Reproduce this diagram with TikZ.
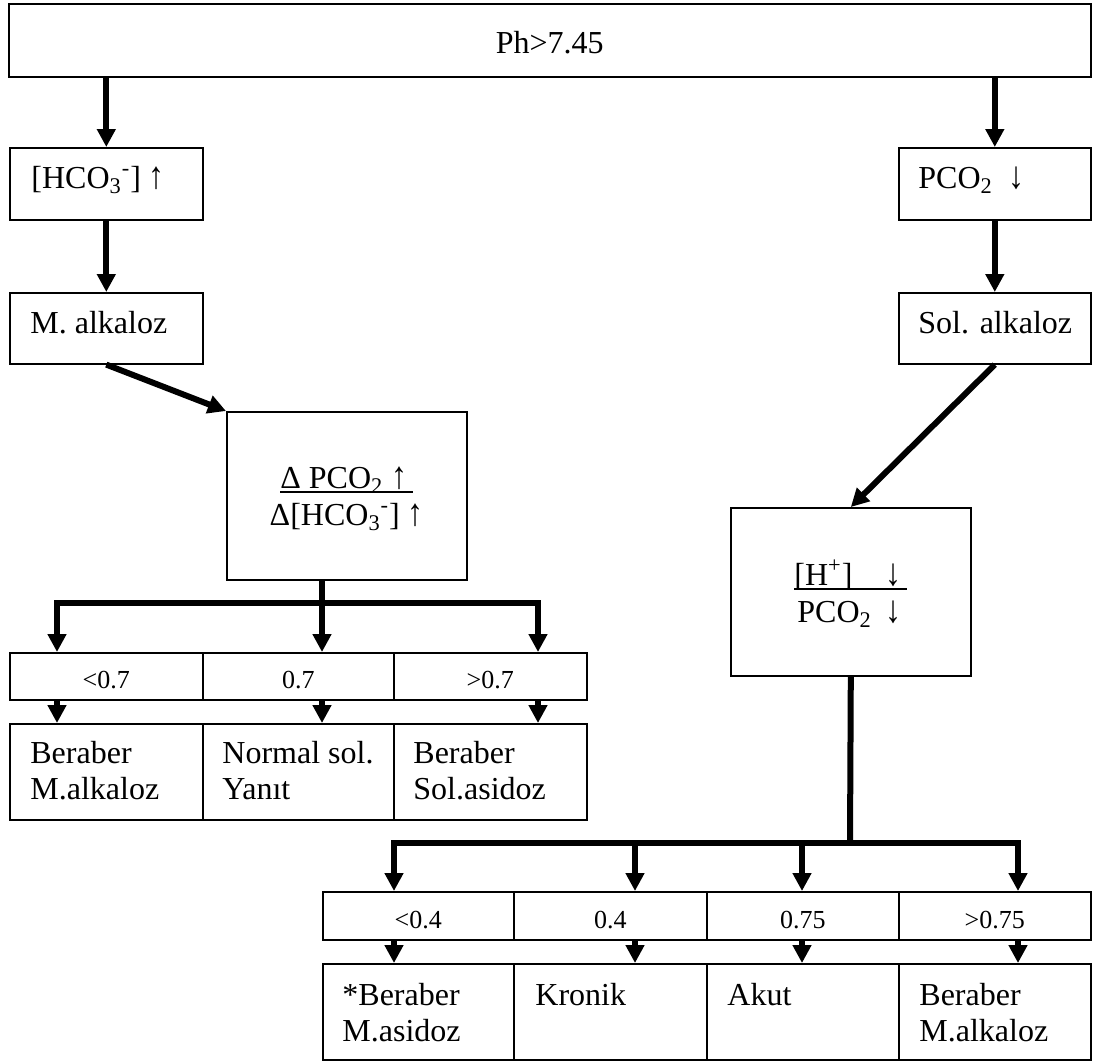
\documentclass[tikz,border=0pt]{standalone}
\usepackage{fontspec}
\setmainfont{Liberation Serif}
\usetikzlibrary{arrows.meta,calc}
\newcommand\myul[2]{\makebox[0pt][l]{\rule[-2.6pt]{#1}{0.9pt}}\makebox[#1][s]{#2}}
\newcommand\twol[2]{\begin{tabular}[t]{@{}l@{}}#1\\#2\end{tabular}}
\newcommand\upa{\scalebox{1}[1.2]{↑}}
\newcommand\dna{\scalebox{1}[1.2]{↓}}
\begin{document}
\begin{tikzpicture}[x=0.5pt,y=-0.5pt,
  bx/.style={draw, line width=0.8pt, inner sep=0pt, anchor=north west},
  tx/.style={inner sep=0pt, font=\fontsize{16}{18.4}\selectfont},
  sm/.style={inner sep=0pt, font=\fontsize{13}{15}\selectfont},
  arr/.style={line width=3pt, -{Triangle[width=9pt,length=9pt]}},
  arrb/.style={line width=3pt, {Triangle[width=9pt,length=9pt]}-{Triangle[width=9pt,length=9pt]}},
  ln/.style={line width=3pt}]
\path[use as bounding box] (0,0) rectangle (1096,1062);

% top box
\node[bx, minimum width=541pt, minimum height=36.5pt] (top) at (8,3) {};
\node[tx, anchor=base] (ttop) at ($(top.north)+(0,50)$) {Ph>7.45};

% left column
\node[bx, minimum width=96.5pt, minimum height=36pt] (hco3) at (9,147) {};
\node[tx, anchor=base west] (thco3) at ($(hco3.north west)+(22,41)$) {[HCO\textsubscript{3}\textsuperscript{-}] \upa};
\node[bx, minimum width=96.5pt, minimum height=35.5pt] (malk) at (9,292) {};
\node[tx, anchor=base west] (tmalk) at ($(malk.north west)+(21,41)$) {M. alkaloz};

% right column
\node[bx, minimum width=96pt, minimum height=36pt] (pco) at (898,147) {};
\node[tx, anchor=base west] (tpco) at ($(pco.north west)+(20,41)$) {PCO\textsubscript{2}\hspace{8pt}\dna};
\node[bx, minimum width=96pt, minimum height=35.5pt] (salk) at (898,292) {};
\node[tx, anchor=base west] (tsalk) at ($(salk.north west)+(20,41)$) {Sol. alkaloz};

% delta box
\node[bx, minimum width=120pt, minimum height=84pt] (delta) at (226,411) {};
\node[tx, anchor=base] (tdelta1) at ($(delta.north)+(0,77)$) {\myul{66.5pt}{Δ PCO\textsubscript{2}\hfill\upa\hspace{3pt}}};
\node[tx, anchor=base] (tdelta2) at ($(delta.north)+(0,114)$) {Δ[HCO\textsubscript{3}\textsuperscript{-}] \upa};

% H+ box
\node[bx, minimum width=120pt, minimum height=84pt] (hplus) at (730,507) {};
\node[tx, anchor=base west] (thplus1) at ($(hplus.north west)+(64,78)$) {\myul{56.5pt}{[H\textsuperscript{+}]\hfill\dna\hspace{3pt}}};
\node[tx, anchor=base west] (thplus2) at ($(hplus.north west)+(67,115)$) {\makebox[52pt][s]{PCO\textsubscript{2}\hfill\dna}};

% left rows
\node[bx, minimum width=96.5pt, minimum height=23.5pt] (r1) at (9,652) {};
\node[bx, minimum width=95.5pt, minimum height=23.5pt] (r2) at (202,652) {};
\node[bx, minimum width=96.5pt, minimum height=23.5pt] (r3) at (393,652) {};
\node[sm, anchor=base] (tr1) at ($(r1.south)+(0,-12)$) {<0.7};
\node[sm, anchor=base] (tr2) at ($(r2.south)+(0,-12)$) {0.7};
\node[sm, anchor=base] (tr3) at ($(r3.south)+(0,-12)$) {>0.7};

\node[bx, minimum width=96.5pt, minimum height=48pt] (s1) at (9,723) {};
\node[bx, minimum width=95.5pt, minimum height=48pt] (s2) at (202,723) {};
\node[bx, minimum width=96.5pt, minimum height=48pt] (s3) at (393,723) {};
\node[tx, anchor=base west] (ts1) at ($(s1.north west)+(21,40)$) {\twol{Beraber}{M.alkaloz}};
\node[tx, anchor=base west] (ts2) at ($(s2.north west)+(20,40)$) {\twol{Normal sol.}{Yanıt}};
\node[tx, anchor=base west] (ts3) at ($(s3.north west)+(20,40)$) {\twol{Beraber}{Sol.asidoz}};

% right rows
\node[bx, minimum width=95.5pt, minimum height=24pt] (q1) at (322,891) {};
\node[bx, minimum width=96.5pt, minimum height=24pt] (q2) at (513,891) {};
\node[bx, minimum width=96pt, minimum height=24pt] (q3) at (706,891) {};
\node[bx, minimum width=96pt, minimum height=24pt] (q4) at (898,891) {};
\node[sm, anchor=base] (tq1) at ($(q1.south)+(0,-12)$) {<0.4};
\node[sm, anchor=base] (tq2) at ($(q2.south)+(0,-12)$) {0.4};
\node[sm, anchor=base] (tq3) at ($(q3.south)+(0,-12)$) {0.75};
\node[sm, anchor=base] (tq4) at ($(q4.south)+(0,-12)$) {>0.75};

\node[bx, minimum width=95.5pt, minimum height=48pt] (p1) at (322,963) {};
\node[bx, minimum width=96.5pt, minimum height=48pt] (p2) at (513,963) {};
\node[bx, minimum width=96pt, minimum height=48pt] (p3) at (706,963) {};
\node[bx, minimum width=96pt, minimum height=48pt] (p4) at (898,963) {};
\node[tx, anchor=base west] (tp1) at ($(p1.north west)+(20,42)$) {\twol{*Beraber}{M.asidoz}};
\node[tx, anchor=base west] (tp2) at ($(p2.north west)+(22,42)$) {Kronik};
\node[tx, anchor=base west] (tp3) at ($(p3.north west)+(21,42)$) {Akut};
\node[tx, anchor=base west] (tp4) at ($(p4.north west)+(21,42)$) {\twol{Beraber}{M.alkaloz}};

% connectors top part
\draw[arr] (top.south -| hco3.north) -- (hco3.north);
\draw[arr] (top.south -| pco.north) -- (pco.north);
\draw[arr] (hco3.south) -- (malk.north);
\draw[arr] (pco.south) -- (salk.north);
\draw[arr] (malk.south) -- (delta.north west);
\draw[arr] (salk.south) -- (hplus.north);

% delta branching
\coordinate (dj) at (322,603);
\coordinate (la1) at (57,652);
\coordinate (la2) at (322,652);
\coordinate (la3) at (538,652);
\draw[ln] (delta.south -| dj) -- (dj);
\draw[arrb] (la1) |- (dj) -| (la3);
\draw[arr] (dj) -- (la2);
\draw[arr] (la1 |- r1.south) -- (la1 |- s1.north);
\draw[arr] (la2 |- r2.south) -- (la2 |- s2.north);
\draw[arr] (la3 |- r3.south) -- (la3 |- s3.north);

% H+ branching
\coordinate (hj) at (850,843);
\coordinate (ra1) at (394,891);
\coordinate (ra2) at (635,891);
\coordinate (ra3) at (802,891);
\coordinate (ra4) at (1018,891);
\draw[ln] (hplus.south) -- (hj);
\draw[arrb] (ra1) |- (hj) -| (ra4);
\draw[arr] (ra2 |- hj) -- (ra2);
\draw[arr] (ra3 |- hj) -- (ra3);
\draw[arr] (ra1 |- q1.south) -- (ra1 |- p1.north);
\draw[arr] (ra2 |- q2.south) -- (ra2 |- p2.north);
\draw[arr] (ra3 |- q3.south) -- (ra3 |- p3.north);
\draw[arr] (ra4 |- q4.south) -- (ra4 |- p4.north);
\end{tikzpicture}
\end{document}
